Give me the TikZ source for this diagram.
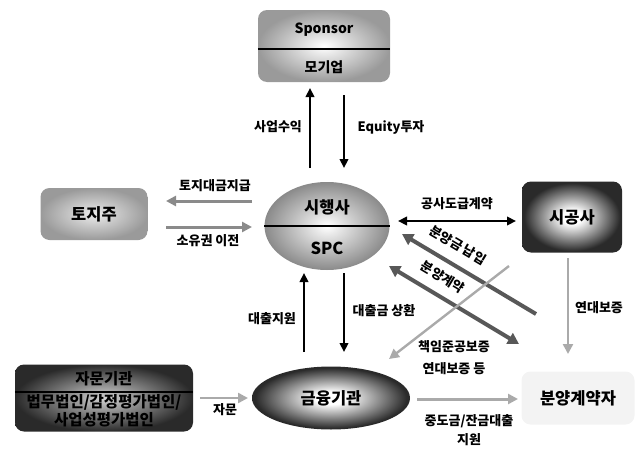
\documentclass[tikz,border=0pt]{standalone}
\usepackage{fontspec}
\setmainfont{Noto Sans CJK KR}
\usetikzlibrary{arrows.meta,shapes.geometric,calc}
\definecolor{ga}{HTML}{8A8A8A}
\definecolor{gb}{HTML}{AAAAAA}
\definecolor{gd}{HTML}{585858}
\definecolor{gbox}{HTML}{9A9A9A}
\definecolor{gdark}{HTML}{2A2A2A}
\definecolor{gpale}{HTML}{F3F3F3}
\pgfdeclareradialshading{brightdark}{\pgfpoint{0bp}{0bp}}{color(0bp)=(white); color(5bp)=(white); color(24bp)=(gdark); color(50bp)=(gdark)}
\begin{document}
\begin{tikzpicture}[x=1pt,y=-1pt,
  lbl/.style={font=\fontsize{13}{15}\selectfont\bfseries, inner sep=0pt},
  big/.style={font=\fontsize{16.5}{19}\selectfont\bfseries, inner sep=0pt},
  mid/.style={font=\fontsize{14}{17}\selectfont\bfseries, inner sep=0pt},
  advf/.style={font=\fontsize{15.5}{18}\selectfont\bfseries, inner sep=0pt},
  blk/.style={line width=2.2pt, draw=black, -{Triangle[length=9pt,width=8.5pt]}},
  blkd/.style={line width=2.2pt, draw=black, {Triangle[length=9pt,width=8.5pt]}-{Triangle[length=9pt,width=8.5pt]}},
  gra/.style={line width=3pt, draw=ga, -{Triangle[length=10pt,width=10pt]}},
  grb/.style={line width=2.4pt, draw=gb, -{Triangle[length=10pt,width=10pt]}},
  grd/.style={line width=4pt, draw=gd, -{Triangle[length=11pt,width=12pt]}},
  grdd/.style={line width=4pt, draw=gd, {Triangle[length=11pt,width=12pt]}-{Triangle[length=11pt,width=12pt]}},
  rbox/.style={rounded corners=9pt, draw=none, inner sep=0pt},
]
\useasboundingbox (0,0) rectangle (638,450);

% Sponsor
\node[rbox, minimum width=132pt, minimum height=72pt, inner color=white, outer color=gbox] (sp) at (324,46) {};
\draw[line width=1.2pt] (sp.west |- 0,49) -- (sp.east |- 0,49);
\node[mid] (spt) at (324,30) {Sponsor};
\node[mid] (spb) at (324,67) {모기업};

% SPC ellipse
\node[ellipse, draw=none, minimum width=125pt, minimum height=88pt, inner color=white, outer color=ga] (spc) at (327,226) {};
\draw[line width=1.2pt] (spc.west) -- (spc.east);
\node[big] (spct) at (327,207) {시행사};
\node[big] (spcb) at (327,248) {SPC};

% 토지주
\node[rbox, minimum width=107pt, minimum height=52pt, inner color=gray!15, outer color=gbox] (land) at (94,214) {};
\node[big] (landt) at (94,214) {토지주};

% 시공사
\node[rbox, minimum width=100pt, minimum height=71pt, shading=brightdark] (con) at (572,217) {};
\node[big] (cont) at (572,217) {시공사};

% 분양계약자
\node[rbox, fill=gpale, minimum width=113pt, minimum height=53pt] (buy) at (578,398) {};
\node[big] (buyt) at (578,398) {분양계약자};

% 금융기관
\node[ellipse, draw=none, minimum width=158pt, minimum height=63pt, shading=brightdark] (fin) at (331,398) {};
\node[big] (fint) at (331,398) {금융기관};

% 자문기관
\node[rbox, minimum width=178pt, minimum height=67pt, inner color=gray!35, outer color=gdark] (adv) at (104,398) {};
\draw[line width=1.2pt] (adv.west |- 0,392) -- (adv.east |- 0,392);
\node[advf] (advt) at (104,379) {자문기관};
\node[advf] (adv1) at (104,402) {법무법인/감정평가법인/};
\node[advf] (adv2) at (104,420) {사업성평가법인};

% coordinates
\coordinate (s1) at (310,168); \coordinate (s2) at (310,88);
\coordinate (e1) at (344,95);  \coordinate (e2) at (344,168);
\coordinate (l1) at (252,201); \coordinate (l2) at (166,201);
\coordinate (o1) at (166,227); \coordinate (o2) at (252,227);
\coordinate (c1) at (398,221); \coordinate (c2) at (516,221);
\coordinate (j1) at (568,258); \coordinate (j2) at (568,354);
\coordinate (f1) at (304,352); \coordinate (f2) at (304,273);
\coordinate (r1) at (344,273); \coordinate (r2) at (344,352);
\coordinate (a1) at (200,398); \coordinate (a2) at (248,398);
\coordinate (m1) at (417,399); \coordinate (m2) at (518,399);
\coordinate (n1) at (536,314); \coordinate (n2) at (402,234);
\coordinate (k1) at (389,266); \coordinate (k2) at (519,344);
\coordinate (g1) at (509,266); \coordinate (g2) at (389,359);

% connectors
\draw[blk] (s1) -- (s2);
\draw[blk] (e1) -- (e2);
\draw[gra] (l1) -- (l2);
\draw[gra] (o1) -- (o2);
\draw[blkd] (c1) -- (c2);
\draw[grb] (j1) -- (j2);
\draw[blk] (f1) -- (f2);
\draw[blk] (r1) -- (r2);
\draw[grb] (a1) -- (a2);
\draw[gra, draw=gb] (m1) -- (m2);
\draw[grd] (n1) -- (n2);
\draw[grdd] (k1) -- (k2);
\draw[grb] (g1) -- (g2);

% labels
\node[lbl] (t1) at (278,127) {사업수익};
\node[lbl] (t2) at (391,127) {Equity투자};
\node[lbl] (t3) at (215,186) {토지대금지급};
\node[lbl] (t4) at (208,241) {소유권 이전};
\node[lbl] (t5) at (457,204) {공사도급계약};
\node[lbl] (t6) at (599,308) {연대보증};
\node[lbl] (t7) at (272,319) {대출지원};
\node[lbl] (t8) at (384,311) {대출금 상환};
\node[lbl] (t9) at (454,347) {책임준공보증};
\node[lbl] (t10) at (454,369) {연대보증 등};
\node[lbl] (t11) at (469,421) {중도금/잔금대출};
\node[lbl] (t12) at (469,440) {지원};
\node[lbl] (t13) at (225,410) {자문};
\node[lbl, rotate=-30.6] (t14) at (458,245) {분양금 납입};
\node[lbl, rotate=-31] (t15) at (443,277) {분양계약};
\end{tikzpicture}
\end{document}
